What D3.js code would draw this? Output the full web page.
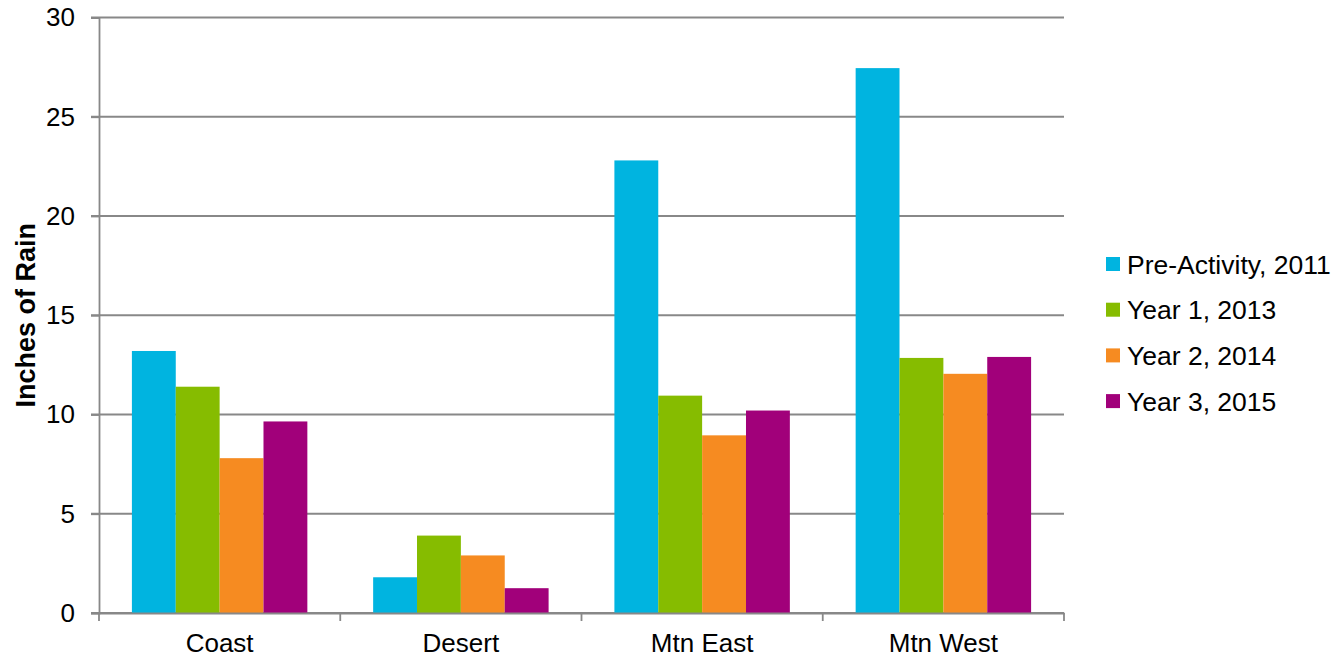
<!DOCTYPE html>
<html>
<head>
<meta charset="utf-8">
<script src="https://cdn.jsdelivr.net/npm/d3@7"></script>
<style>
  body { margin: 0; background: #fff; }
  text { font-family: "Liberation Sans", Arial, sans-serif; fill: #000; }
</style>
</head>
<body>
<div id="chart"></div>
<script>
const categories = ["Coast", "Desert", "Mtn East", "Mtn West"];
const seriesNames = ["Pre-Activity, 2011", "Year 1, 2013", "Year 2, 2014", "Year 3, 2015"];
const preActivity = [13.2, 1.8, 22.8, 27.45];
const year1 = [11.4, 3.9, 10.95, 12.85];
const year2 = [7.8, 2.9, 8.95, 12.05];
const year3 = [9.65, 1.25, 10.2, 12.9];
const yTicks = [0, 5, 10, 15, 20, 25, 30];
const colors = ["#00b4e0", "#86bc00", "#f68b21", "#a1007a"];

const seriesValues = [preActivity, year1, year2, year3];

const width = 1337;
const height = 657;
const margin = { top: 17.5, right: 273, bottom: 44, left: 99 };

const svg = d3.select("#chart")
    .append("svg")
    .attr("width", width)
    .attr("height", height);

const x0 = d3.scaleBand()
    .domain(categories)
    .range([margin.left, width - margin.right])
    .padding(0);

const x1 = d3.scaleBand()
    .domain(seriesNames)
    .range([0, x0.bandwidth()])
    .paddingInner(0)
    .paddingOuter(0.75);

const y = d3.scaleLinear()
    .domain([0, 30])
    .range([height - margin.bottom, margin.top]);

const gridColor = "#888888";

// gridlines
svg.append("g")
    .selectAll("line")
    .data(yTicks)
    .enter()
    .append("line")
    .attr("x1", margin.left - 8)
    .attr("x2", width - margin.right)
    .attr("y1", d => y(d))
    .attr("y2", d => y(d))
    .attr("stroke", gridColor)
    .attr("stroke-width", 1.8);

// bars
const groups = svg.append("g")
    .selectAll("g")
    .data(categories)
    .enter()
    .append("g")
    .attr("transform", d => `translate(${x0(d)},0)`);

groups.selectAll("rect")
    .data((c, i) => seriesNames.map((s, j) => ({ s: s, j: j, v: seriesValues[j][i] })))
    .enter()
    .append("rect")
    .attr("x", d => x1(d.s))
    .attr("width", x1.bandwidth())
    .attr("y", d => y(d.v))
    .attr("height", d => y(0) - y(d.v))
    .attr("fill", d => colors[d.j]);

// y axis
const yAxis = svg.append("g")
    .attr("transform", `translate(${margin.left},0)`)
    .call(d3.axisLeft(y).tickValues(yTicks).tickSize(8).tickPadding(16));
yAxis.select(".domain").attr("stroke", gridColor).attr("stroke-width", 1.8);
yAxis.selectAll(".tick line").attr("stroke", gridColor).attr("stroke-width", 1.8);
yAxis.selectAll(".tick text").style("font-size", "26px").attr("font-family", null);

// x axis
const xAxis = svg.append("g")
    .attr("transform", `translate(0,${y(0)})`)
    .call(d3.axisBottom(x0).tickSize(0).tickPadding(21));
xAxis.select(".domain").attr("stroke", gridColor).attr("stroke-width", 1.8);
xAxis.selectAll(".tick text").style("font-size", "26px").attr("font-family", null);

const bounds = categories.map(c => x0(c)).concat([x0.range()[1]]);
svg.append("g")
    .selectAll("line")
    .data(bounds)
    .enter()
    .append("line")
    .attr("x1", d => d)
    .attr("x2", d => d)
    .attr("y1", y(0))
    .attr("y2", y(0) + 8)
    .attr("stroke", gridColor)
    .attr("stroke-width", 1.8);

// y title
svg.append("text")
    .attr("transform", `translate(35, ${(y(0) + y(30)) / 2}) rotate(-90)`)
    .attr("text-anchor", "middle")
    .style("font-size", "27px")
    .style("font-weight", "bold")
    .text("Inches of Rain");

// legend
const legend = svg.append("g")
    .attr("transform", "translate(1106, 264)");

const items = legend.selectAll("g")
    .data(seriesNames)
    .enter()
    .append("g")
    .attr("transform", (d, i) => `translate(0, ${i * 45.7})`);

items.append("rect")
    .attr("x", 0)
    .attr("y", -7)
    .attr("width", 14)
    .attr("height", 14)
    .attr("fill", (d, i) => colors[i]);

items.append("text")
    .attr("x", 21)
    .attr("y", 9.5)
    .style("font-size", "26.5px")
    .text(d => d);
</script>
</body>
</html>
